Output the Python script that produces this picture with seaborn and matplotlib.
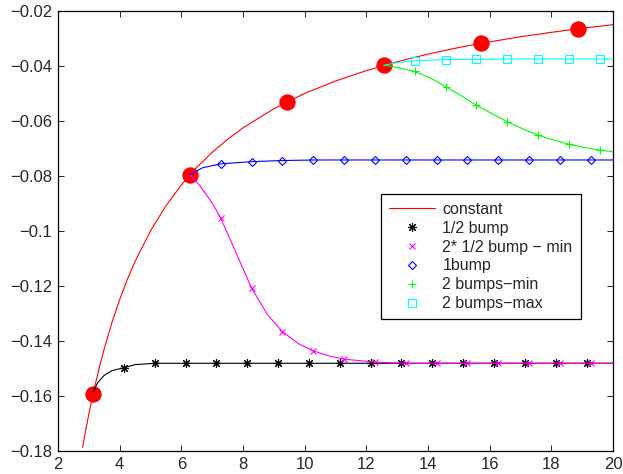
#! /usr/bin/env python3
"""Recreate the MATLAB-style bump comparison line chart with seaborn."""

import matplotlib
matplotlib.use('Agg')
import matplotlib.pyplot as plt
import seaborn as sns

# ------------------------------
# Data
# ------------------------------

constant_x = [2.8, 2.9, 3.0, 3.1, 3.2, 3.35, 3.5, 3.75, 4.0, 4.25, 4.5, 5.0, 5.5, 6.0,
              6.5, 7.0, 7.5, 8.0, 9.0, 10.0, 11.0, 12.0, 13.0, 14.0, 15.0, 16.0,
              17.0, 18.0, 19.0, 20.0]
constant_y = [-0.1786, -0.1724, -0.1667, -0.1613, -0.1563, -0.1493, -0.1429, -0.1333,
              -0.125, -0.1176, -0.1111, -0.1, -0.0909, -0.0833, -0.0769, -0.0714,
              -0.0667, -0.0625, -0.0556, -0.05, -0.0455, -0.0417, -0.0385, -0.0357,
              -0.0333, -0.03125, -0.0294, -0.0278, -0.0263, -0.025]

dots_x = [3.14, 6.28, 9.42, 12.57, 15.71, 18.85]
dots_y = [-0.1592, -0.0796, -0.0531, -0.0398, -0.0318, -0.0265]

half_x = [3.14, 3.3, 3.5, 3.75, 4.14, 4.5, 5.14, 20.0]
half_y = [-0.1584, -0.1550, -0.1525, -0.1508, -0.1497, -0.1486, -0.1481, -0.1481]
half_mx = [3.14, 4.14, 5.14, 6.14, 7.14, 8.14, 9.14, 10.14, 11.14, 12.14, 13.14,
           14.14, 15.14, 16.14, 17.14, 18.14, 19.14]
half_my = [-0.1584, -0.1497] + [-0.1481] * 15

twohalf_x = [6.28, 6.6, 7.0, 7.28, 7.8, 8.28, 8.8, 9.28, 9.8, 10.28, 10.8, 11.28,
             12.28, 13.28, 20.0]
twohalf_y = [-0.0795, -0.0835, -0.0898, -0.0954, -0.1085, -0.1208, -0.1305, -0.1366,
             -0.1410, -0.1436, -0.1455, -0.1466, -0.1477, -0.1481, -0.1481]
twohalf_mx = [6.28, 7.28, 8.28, 9.28, 10.28, 11.28, 12.28, 13.28, 14.28, 15.28,
              16.28, 17.28, 18.28, 19.28]
twohalf_my = [-0.0795, -0.0954, -0.1208, -0.1366, -0.1436, -0.1466, -0.1477] + [-0.1481] * 7

one_x = [6.28, 6.7, 7.28, 8.28, 9.28, 10.28, 20.0]
one_y = [-0.0795, -0.0770, -0.0756, -0.0748, -0.0744, -0.0742, -0.0742]
one_mx = [6.28, 7.28, 8.28, 9.28, 10.28, 11.28, 12.28, 13.28, 14.28, 15.28, 16.28,
          17.28, 18.28, 19.28]
one_my = [-0.0795, -0.0756, -0.0748, -0.0744] + [-0.0742] * 10

twomin_x = [12.57, 13.0, 13.57, 14.1, 14.57, 15.1, 15.57, 16.1, 16.57, 17.1, 17.57,
            18.1, 18.57, 19.1, 19.57, 20.0]
twomin_y = [-0.0398, -0.0405, -0.0420, -0.0445, -0.0475, -0.0510, -0.0543, -0.0575,
            -0.0603, -0.0630, -0.0652, -0.0670, -0.0685, -0.0697, -0.0706, -0.0712]
twomin_mx = [12.57, 13.57, 14.57, 15.57, 16.57, 17.57, 18.57, 19.57]
twomin_my = [-0.0398, -0.0420, -0.0475, -0.0543, -0.0603, -0.0652, -0.0685, -0.0706]

twomax_x = [12.57, 13.0, 13.57, 14.57, 15.57, 16.57, 20.0]
twomax_y = [-0.0398, -0.0388, -0.0381, -0.0377, -0.0376, -0.0375, -0.0375]
twomax_mx = [12.57, 13.57, 14.57, 15.57, 16.57, 17.57, 18.57, 19.57]
twomax_my = [-0.0398, -0.0381, -0.0377, -0.0376, -0.0375, -0.0375, -0.0375, -0.0375]

x_ticks = [2, 4, 6, 8, 10, 12, 14, 16, 18, 20]
y_ticks = [-0.18, -0.16, -0.14, -0.12, -0.1, -0.08, -0.06, -0.04, -0.02]

MINUS = '\u2212'
ASTERISK = (8, 2, 0)  # MATLAB-like '*' marker

SERIES = [
    # label, line x/y, marker x/y, colour, marker, size
    ('1/2 bump', half_x, half_y, half_mx, half_my, '#000000', ASTERISK, 6.5),
    (f'2* 1/2 bump {MINUS} min', twohalf_x, twohalf_y, twohalf_mx, twohalf_my, '#ff00ff', 'x', 4.5),
    ('1bump', one_x, one_y, one_mx, one_my, '#0000ff', 'D', 4.5),
    (f'2 bumps{MINUS}min', twomin_x, twomin_y, twomin_mx, twomin_my, '#00ff00', '+', 6),
    (f'2 bumps{MINUS}max', twomax_x, twomax_y, twomax_mx, twomax_my, '#00ffff', 's', 6),
]


def main():
    sns.set_theme(style='ticks')
    plt.rcParams['font.family'] = ['Liberation Sans', 'DejaVu Sans']
    plt.rcParams.update({
        'xtick.direction': 'in', 'ytick.direction': 'in',
        'xtick.top': True, 'ytick.right': True,
        'xtick.major.size': 4, 'ytick.major.size': 4,
        'xtick.major.width': 0.7, 'ytick.major.width': 0.7,
        'axes.linewidth': 0.9, 'axes.edgecolor': 'black',
        'font.size': 11.5, 'xtick.labelsize': 12, 'ytick.labelsize': 12,
        'xtick.major.pad': 4, 'ytick.major.pad': 4,
    })

    fig = plt.figure(figsize=(6.23, 4.74), dpi=100)
    ax = fig.add_axes([0.093, 0.0485, 0.891, 0.9285])

    # markers under the red dots, branch lines drawn over them
    sns.lineplot(x=constant_x, y=constant_y, sort=False, estimator=None, ax=ax,
                 color='#ff0000', linewidth=0.8, label='constant', zorder=2)

    for label, lx, ly, mx, my, color, marker, size in SERIES:
        kw = dict(markeredgecolor=color, markeredgewidth=0.8)
        if marker in ('D', 's'):
            kw['markerfacecolor'] = 'none'
        sns.lineplot(x=mx, y=my, sort=False, estimator=None, ax=ax,
                     linestyle='none', marker=marker, markersize=size,
                     color=color, label=label, zorder=2, **kw)

    sns.lineplot(x=dots_x, y=dots_y, sort=False, estimator=None, ax=ax,
                 linestyle='none', marker='o', markersize=11, color='#ff0000',
                 markeredgecolor='#ff0000', zorder=3)

    for label, lx, ly, mx, my, color, marker, size in SERIES:
        sns.lineplot(x=lx, y=ly, sort=False, estimator=None, ax=ax,
                     color=color, linewidth=0.8, zorder=4)

    ax.set_xlim(2, 20)
    ax.set_ylim(-0.18, -0.02)
    ax.set_xticks(x_ticks)
    ax.set_yticks(y_ticks)
    ax.set_xticklabels([str(t) for t in x_ticks])
    ax.set_yticklabels([f'{t:g}'.replace('-', MINUS) for t in y_ticks])
    ax.set_xlabel('')
    ax.set_ylabel('')

    leg = ax.legend(loc='upper left', bbox_to_anchor=(0.582, 0.584), borderaxespad=0,
                    fontsize=11.5, frameon=True, fancybox=False, framealpha=1,
                    edgecolor='black', handlelength=2.9, handletextpad=0.45,
                    labelspacing=0.24, borderpad=0.5)
    leg.get_frame().set_linewidth(0.9)
    leg.set_zorder(10)

    fig.savefig('out.png', dpi=100)
    plt.close(fig)


if __name__ == '__main__':
    main()
